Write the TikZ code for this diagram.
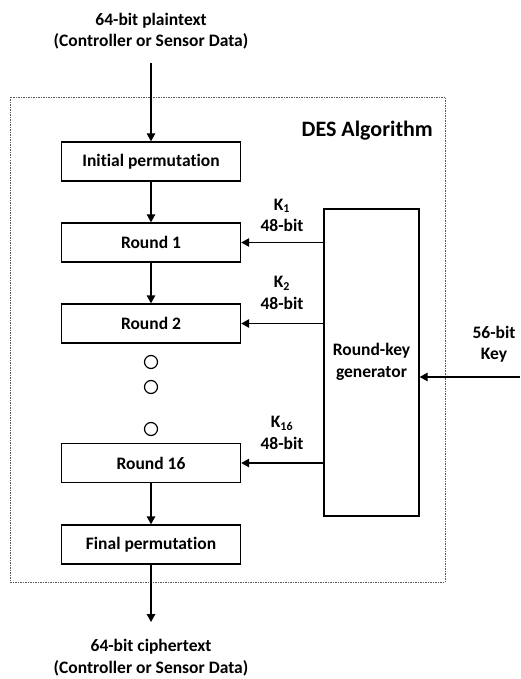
\documentclass[tikz,border=0pt]{standalone}
\usepackage{fontspec}
\setmainfont[Ligatures=NoCommon]{Carlito}
\usetikzlibrary{arrows.meta}
\begin{document}
\begin{tikzpicture}[x=1pt,y=-1pt,
  font=\bfseries\fontsize{17.5}{21.5}\selectfont,
  blk/.style={draw,line width=1.4pt,minimum width=179pt,minimum height=39pt,inner sep=0pt},
  dot/.style={draw,circle,line width=1.2pt,minimum size=13pt,inner sep=0pt},
  flow/.style={line width=1.4pt,-{Triangle[length=8pt,width=8.5pt]}},
  lbl/.style={align=center,inner sep=0pt}]
\useasboundingbox (0,0) rectangle (520,679);
% enclosing algorithm frame
\draw[gray!70!black,line width=0.8pt,dash pattern=on 1.5pt off 1pt] (10,97) rectangle (445,582);
\node[lbl,font=\bfseries\fontsize{22}{26}\selectfont,anchor=east] (title) at (433,131) {DES Algorithm};
% main data path
\node[blk] (ip)  at (151,161.5) {Initial permutation};
\node[blk] (r1)  at (151,242.5) {Round 1};
\node[blk] (r2)  at (151,323.5) {Round 2};
\node[dot] (d1)  at (151,362) {};
\node[dot] (d2)  at (151,387) {};
\node[dot] (d3)  at (151,429) {};
\node[blk] (r16) at (151,463) {Round 16};
\node[blk] (fp)  at (151,544.5) {Final permutation};
% key schedule
\node[draw,line width=1.4pt,minimum width=95pt,minimum height=307pt,inner sep=0pt] (rkg) at (371.5,362.5) {};
\node[lbl] (rkgt) at (371.5,362) {Round-key\\generator};
% external texts
\node[lbl] (pt) at (151,31) {64-bit plaintext\\(Controller or Sensor Data)};
\node[lbl] (ct) at (151,657.5) {64-bit ciphertext\\(Controller or Sensor Data)};
\node[lbl] (key) at (494,344) {56-bit\\Key};
\node[lbl] (k1)  at (282,215.5) {K\textsubscript{\fontsize{12}{13}\selectfont 1}\\48-bit};
\node[lbl] (k2)  at (282,293) {K\textsubscript{\fontsize{12}{13}\selectfont 2}\\48-bit};
\node[lbl] (k16) at (282,433) {K\textsubscript{\fontsize{12}{13}\selectfont 16}\\48-bit};
% connectors
\coordinate (in) at (151,63);
\coordinate (out) at (151,622);
\coordinate (keyin) at (520,377);
\draw[flow] (in) -- (ip);
\draw[flow] (ip) -- (r1);
\draw[flow] (r1) -- (r2);
\draw[flow] (r16) -- (fp);
\draw[flow] (fp) -- (out);
\draw[flow] (rkg.west |- r1) -- (r1.east);
\draw[flow] (rkg.west |- r2) -- (r2.east);
\draw[flow] (rkg.west |- r16) -- (r16.east);
\draw[flow] (keyin) -- (keyin -| rkg.east);
\end{tikzpicture}
\end{document}
